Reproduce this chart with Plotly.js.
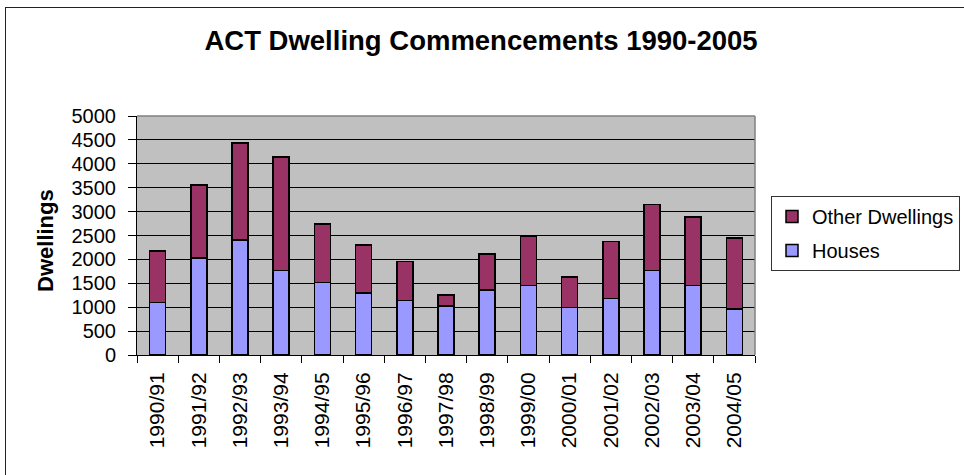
<!DOCTYPE html>
<html>
<head>
<meta charset="utf-8">
<script src="https://cdn.plot.ly/plotly-3.0.1.min.js"></script>
<style>
  html, body { margin: 0; padding: 0; background: #fff; overflow: hidden; }
  #chart { position: absolute; left: 0; top: 0; width: 964px; height: 475px; }
  #frame { position: absolute; left: 5px; top: 7px; width: 1000px; height: 520px;
           border: 1px solid #222; pointer-events: none; }
</style>
</head>
<body>
<div id="chart"></div>
<div id="frame"></div>
<script>
const categories = ['1990/91','1991/92','1992/93','1993/94','1994/95','1995/96','1996/97','1997/98',
                    '1998/99','1999/00','2000/01','2001/02','2002/03','2003/04','2004/05'];
const houses = [1100, 2030, 2410, 1770, 1520, 1300, 1140, 1030, 1360, 1450, 995, 1180, 1770, 1450, 960];
const otherDwellings = [1080, 1530, 2030, 2370, 1220, 1000, 815, 230, 750, 1030, 635, 1190, 1375, 1440, 1485];
const yTicks = [0, 500, 1000, 1500, 2000, 2500, 3000, 3500, 4000, 4500, 5000];

const FONT = 'Liberation Sans, Arial, sans-serif';

const traces = [
  {
    type: 'bar', name: 'Houses', x: categories, y: houses,
    marker: { color: '#9999FF', line: { color: '#000000', width: 1.5 } },
    legendgroup: 'h', legendrank: 2
  },
  {
    type: 'bar', name: 'Other Dwellings', x: categories, y: otherDwellings,
    marker: { color: '#993366', line: { color: '#000000', width: 1.5 } },
    legendgroup: 'o', legendrank: 1
  }
];

const layout = {
  width: 964, height: 475,
  margin: { l: 137, r: 209, t: 116, b: 120, pad: 0, autoexpand: false },
  paper_bgcolor: 'rgba(0,0,0,0)',
  plot_bgcolor: '#C0C0C0',
  barmode: 'stack',
  bargap: 0.61,
  font: { family: FONT, color: '#000', size: 20 },
  title: {
    text: '<b>ACT Dwelling Commencements 1990-2005</b>',
    font: { family: FONT, size: 27.5, color: '#000' },
    x: 0.499, xanchor: 'center', y: 0.914, yanchor: 'middle'
  },
  xaxis: {
    type: 'category',
    tickangle: -90,
    tickson: 'boundaries',
    ticks: 'outside', ticklen: 7, tickcolor: '#000', tickwidth: 1,
    showline: true, linecolor: '#000', linewidth: 1,
    showgrid: false,
    tickfont: { family: FONT, size: 21, color: '#000' },
    ticklabelstandoff: 8,
    automargin: false,
    fixedrange: true
  },
  yaxis: {
    range: [0, 5000],
    tickvals: yTicks,
    ticktext: yTicks.map(String),
    ticks: 'outside', ticklen: 8, tickcolor: '#000', tickwidth: 1,
    showline: true, linecolor: '#000', linewidth: 1,
    showgrid: true, gridcolor: '#000', gridwidth: 1,
    zeroline: false,
    tickfont: { family: FONT, size: 20, color: '#000' },
    ticklabelstandoff: 8,
    automargin: false,
    fixedrange: true
  },
  shapes: [
    { type: 'line', xref: 'paper', yref: 'paper', x0: 0, x1: 1, y0: 1, y1: 1,
      line: { color: '#808080', width: 1.5 }, layer: 'above' },
    { type: 'line', xref: 'paper', yref: 'paper', x0: 1, x1: 1, y0: 0, y1: 1,
      line: { color: '#808080', width: 1.5 }, layer: 'above' }
  ],
  annotations: [
    { text: '<b>Dwellings</b>', xref: 'paper', yref: 'paper', x: -0.149, y: 0.481,
      xanchor: 'center', yanchor: 'middle', textangle: -90, showarrow: false,
      font: { family: FONT, size: 22, color: '#000' } }
  ],
  showlegend: true,
  legend: {
    xref: 'container', yref: 'container',
    x: 0.7998, xanchor: 'left', y: 0.5874, yanchor: 'top',
    traceorder: 'grouped', tracegroupgap: 5,
    bgcolor: '#FFFFFF', bordercolor: '#333333', borderwidth: 1,
    font: { family: FONT, size: 20, color: '#000' },
    itemwidth: 30
  }
};

Plotly.newPlot('chart', traces, layout, { displayModeBar: false, staticPlot: true });
</script>
</body>
</html>
